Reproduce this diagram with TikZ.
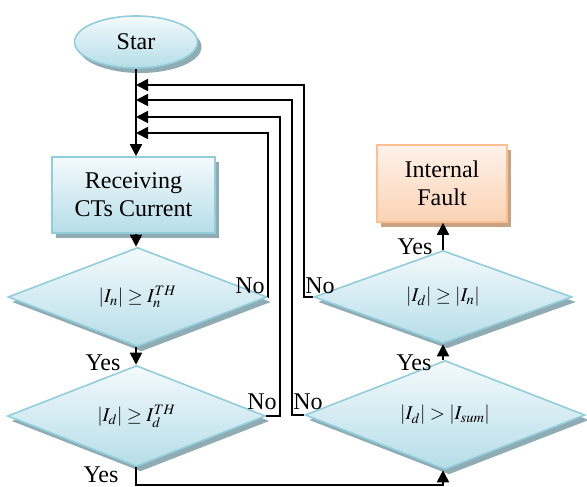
\documentclass[tikz,border=0pt]{standalone}
\usepackage{mathptmx}
\usepackage[no-math]{fontspec}
\setmainfont{Liberation Serif}
\usetikzlibrary{shapes.geometric,arrows.meta,shadows}
\definecolor{bluebd}{HTML}{92CDDC}
\definecolor{bluetop}{HTML}{F3FAFC}
\definecolor{bluebot}{HTML}{B6DDE8}
\definecolor{blueshd}{HTML}{8FABB3}
\definecolor{orbd}{HTML}{FAC090}
\definecolor{ortop}{HTML}{FEF2EA}
\definecolor{orbot}{HTML}{FBD3B4}
\definecolor{orshd}{HTML}{C9A183}
\tikzset{
  bluefill/.style={draw=bluebd, line width=1.6pt, top color=bluetop, bottom color=bluebot,
    drop shadow={shadow xshift=4pt, shadow yshift=-5pt, fill=blueshd, opacity=1}},
  orfill/.style={draw=orbd, line width=1.6pt, top color=ortop, bottom color=orbot,
    drop shadow={shadow xshift=4pt, shadow yshift=-5pt, fill=orshd, opacity=1}},
  txt/.style={font=\fontsize{24}{28}\selectfont, align=center},
  mtxt/.style={font=\fontsize{19.5}{22}\selectfont},
  dec/.style={diamond, bluefill, mtxt, inner sep=0pt},
  lbl/.style={font=\fontsize{24}{26}\selectfont, inner sep=0pt},
  conn/.style={line width=1.8pt, -{Triangle[length=12pt,width=12pt]}},
}
\begin{document}
\begin{tikzpicture}[x=1pt,y=-1pt]
\useasboundingbox (0,0) rectangle (587,487);
% nodes
\node[ellipse, bluefill, txt, minimum width=123pt, minimum height=52pt, inner sep=0pt] (start) at (136,42) {Star};
\node[rectangle, bluefill, txt, minimum width=163pt, minimum height=76pt, inner sep=0pt] (recv) at (133.5,195) {Receiving\\CTs Current};
\node[dec, minimum width=259pt, minimum height=86pt] (d1) at (137.5,297) {$|I_n| \geq I_n^{TH}$};
\node[dec, minimum width=258pt, minimum height=83pt] (d2) at (136.5,416) {$|I_d| \geq I_d^{TH}$};
\node[dec, minimum width=258pt, minimum height=86pt] (d3) at (443,297) {$|I_d| \geq |I_n|$};
\node[dec, minimum width=280pt, minimum height=83pt] (d4) at (445,415) {$|I_d| > |I_{sum}|$};
\node[rectangle, orfill, txt, minimum width=130pt, minimum height=77pt, inner sep=0pt] (fault) at (442,183.5) {Internal\\Fault};
% merge coordinates on the main line
\coordinate (m1) at (136,85);
\coordinate (m2) at (136,100);
\coordinate (m3) at (136,117);
\coordinate (m4) at (136,133);
\coordinate (c1) at (268,297);
\coordinate (c2) at (280,416);
\coordinate (c3) at (304,297);
\coordinate (c4) at (292,415);
\coordinate (b1) at (136,485);
\coordinate (b2) at (443,485);
% main flow
\draw[conn] (start.south) -- (start.south |- recv.north);
\draw[conn] (recv.south -| start.south) -- (d1.north -| start.south);
\draw[conn] (d1.south -| start.south) -- (d2.north -| start.south);
\draw[conn] (d2.south -| start.south) -- (b1) -- (b2) -- (d4.south -| b2);
\draw[conn] (d4.north -| b2) -- (d3.south -| b2);
\draw[conn] (d3.north -| b2) -- (fault.south -| b2);
% feedback loops
\draw[conn] (d1.east) -- (c1) -- (c1 |- m4) -- (m4);
\draw[conn] (d2.east) -- (c2) -- (c2 |- m3) -- (m3);
\draw[conn] (d4.west) -- (c4) -- (c4 |- m2) -- (m2);
\draw[conn] (d3.west) -- (c3) -- (c3 |- m1) -- (m1);
% labels
\node[lbl] (y1) at (103,363) {Yes};
\node[lbl] (y2) at (101,475) {Yes};
\node[lbl] (y3) at (414,363) {Yes};
\node[lbl] (y4) at (415,247) {Yes};
\node[lbl] (n1) at (250,286) {No};
\node[lbl] (n2) at (262,402) {No};
\node[lbl] (n3) at (320,286) {No};
\node[lbl] (n4) at (308,402) {No};
\end{tikzpicture}
\end{document}
